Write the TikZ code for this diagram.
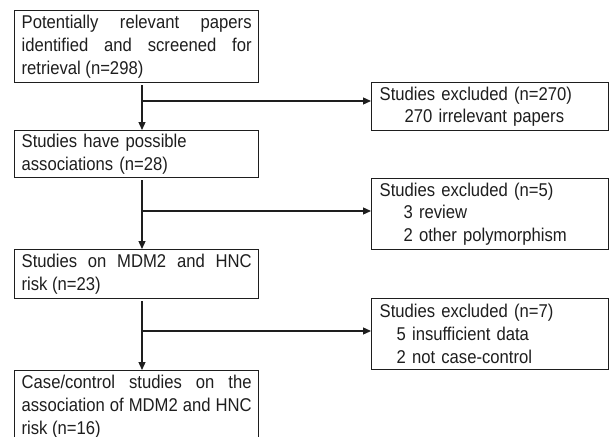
\documentclass[tikz,border=0pt]{standalone}
\usepackage{fontspec}
\setmainfont{Liberation Sans}[FakeStretch=0.9]
\usetikzlibrary{arrows.meta}
\definecolor{ink}{HTML}{1E1E1E}
\hyphenpenalty=10000
\exhyphenpenalty=10000
\begin{document}
\begin{tikzpicture}[x=1pt,y=-1pt,
  box/.style={draw=ink, line width=1.3pt, text=ink, inner xsep=7pt, inner ysep=0pt,
    font=\fontsize{18.5}{22.8}\selectfont, anchor=north west},
  lbox/.style={box, text width=230pt},
  rbox/.style={box, inner xsep=8pt, text width=221pt, align=left},
  arr/.style={draw=ink, line width=1.3pt, -{Triangle[length=8pt,width=7pt]}}]
\useasboundingbox (0,0) rectangle (612,436);
\fill[white] (0,0) rectangle (612,436);

\node[lbox, align=justify, minimum height=72pt] (b1) at (14,10)
  {Potentially relevant papers\linebreak identified and screened for\linebreak retrieval (n=298)};
\node[lbox, align=left, minimum height=47pt] (b2) at (14,130)
  {Studies have possible\\associations (n=28)};
\node[lbox, align=justify, minimum height=49pt] (b3) at (14,249)
  {Studies on MDM2 and HNC\linebreak risk (n=23)};
\node[lbox, align=justify, minimum height=72pt] (b4) at (14,370)
  {Case/control studies on the\linebreak association of MDM2 and HNC\linebreak risk (n=16)};

\node[rbox, minimum height=48pt] (r1) at (371,82)
  {Studies excluded (n=270)\\\hspace*{25pt}270 irrelevant papers};
\node[rbox, minimum height=71pt] (r2) at (371,178)
  {Studies excluded (n=5)\\\hspace*{24pt}3 review\\\hspace*{24pt}2 other polymorphism};
\node[rbox, minimum height=71pt] (r3) at (371,298)
  {Studies excluded (n=7)\\\hspace*{17pt}5 insufficient data\\\hspace*{17pt}2 not case-control};

\coordinate (s) at (142,0);
\coordinate (j1) at (142,101);
\coordinate (j2) at (142,211);
\coordinate (j3) at (142,331);

\draw[arr, shorten <=2pt] (b1.south -| s) -- (b2.north -| s);
\draw[arr] (j1) -- (r1.west |- j1);
\draw[arr, shorten <=2pt] (b2.south -| s) -- (b3.north -| s);
\draw[arr] (j2) -- (r2.west |- j2);
\draw[arr, shorten <=2pt] (b3.south -| s) -- (b4.north -| s);
\draw[arr] (j3) -- (r3.west |- j3);
\end{tikzpicture}
\end{document}
